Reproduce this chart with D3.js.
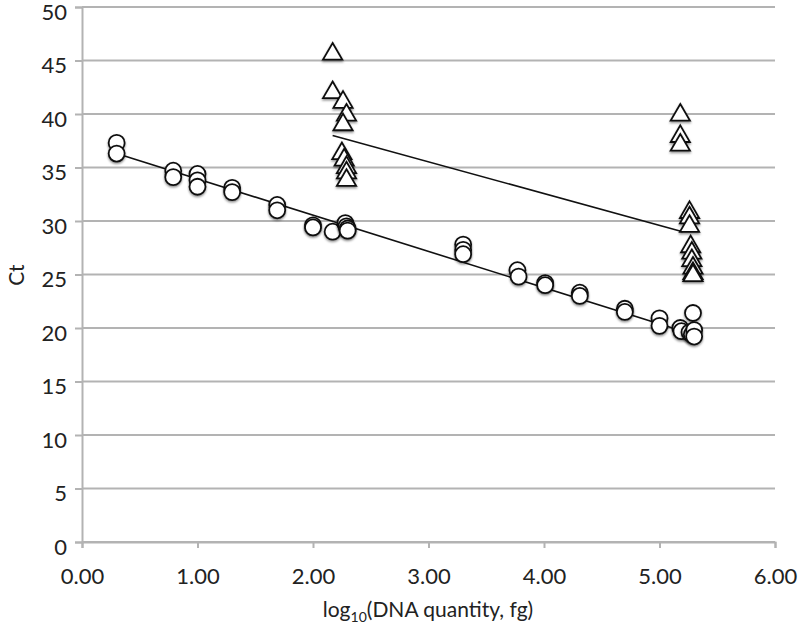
<!DOCTYPE html>
<html><head><meta charset="utf-8">
<script src="https://cdn.jsdelivr.net/npm/d3@7"></script>
<style>body{margin:0;background:#fff;} svg{display:block;}</style>
</head><body>
<script>
// Circle series: [log10 quantity, Ct]
const circleX = [0.30,0.30,0.79,0.79,1.00,1.00,1.00,1.30,1.30,1.69,1.69,2.00,2.00,2.17,2.28,2.29,2.30,2.30,3.30,3.30,3.30,3.77,3.78,4.01,4.01,4.31,4.31,4.70,4.70,5.00,5.00,5.18,5.19,5.26,5.28,5.29,5.30,5.30];
const circleY = [37.3,36.3,34.7,34.1,34.4,33.8,33.2,33.1,32.7,31.5,31.0,29.6,29.4,29.0,29.8,29.5,29.3,29.1,27.8,27.3,26.9,25.4,24.8,24.2,24.0,23.3,23.0,21.8,21.5,20.9,20.2,20.0,19.7,19.6,19.4,21.4,19.8,19.2];
// Triangle series
const triX = [2.17,2.17,2.26,2.29,2.26,2.25,2.27,2.29,2.29,2.29,5.18,5.18,5.18,5.26,5.26,5.26,5.27,5.28,5.28,5.29,5.29,5.29];
const triY = [45.6,42.0,41.1,39.9,39.0,36.3,35.7,35.0,34.5,33.8,39.9,37.9,37.1,30.8,30.3,29.5,27.6,27.0,26.3,25.6,25.1,24.9];
// Trend line endpoints
const circleTrendX = [0.30, 5.32];
const circleTrendY = [36.3, 19.3];
const triTrendX = [2.17, 5.20];
const triTrendY = [38.0, 29.0];
// Ticks
const xTicks = [0,1,2,3,4,5,6];
const yTicks = [0,5,10,15,20,25,30,35,40,45,50];
const xLabel = "log";
const yLabel = "Ct";

const W = 800, H = 634;
const svg = d3.select("body").append("svg").attr("width", W).attr("height", H);
const x = d3.scaleLinear().domain([0,6]).range([82,775]);
const y = d3.scaleLinear().domain([0,50]).range([542,7]);
const font = "Lato, 'Open Sans', sans-serif";
const gridC = "#b3b3b3";

// gridlines
svg.append("g").selectAll("line").data(yTicks).join("line")
  .attr("x1", x(0)).attr("x2", x(6)).attr("y1", d=>y(d)).attr("y2", d=>y(d))
  .attr("stroke", gridC).attr("stroke-width", 2);

// y axis
const yAxis = d3.axisLeft(y).tickValues(yTicks).tickSize(7).tickPadding(8).tickFormat(d3.format("d"));
const gy = svg.append("g").attr("transform", `translate(${x(0)},0)`).call(yAxis);
gy.select(".domain").attr("stroke", gridC).attr("stroke-width", 2);
gy.selectAll(".tick line").attr("stroke", gridC).attr("stroke-width", 2);
gy.selectAll("text").attr("font-family", font).attr("font-size", 22).attr("fill", "#222").attr("dy", "0.55em");

// x axis
const xAxis = d3.axisBottom(x).tickValues(xTicks).tickSize(6).tickPadding(20).tickFormat(d3.format(".2f"));
const gx = svg.append("g").attr("transform", `translate(0,${y(0)})`).call(xAxis);
gx.select(".domain").attr("stroke", gridC).attr("stroke-width", 2);
gx.selectAll(".tick line").attr("stroke", gridC).attr("stroke-width", 2);
gx.selectAll("text").attr("font-family", font).attr("font-size", 22).attr("fill", "#222");

// trend lines
const line = d3.line().x(d=>x(d[0])).y(d=>y(d[1]));
svg.append("path").datum(d3.zip(circleTrendX, circleTrendY)).attr("d", line)
  .attr("stroke", "#111").attr("stroke-width", 1.6).attr("fill", "none");
svg.append("path").datum(d3.zip(triTrendX, triTrendY)).attr("d", line)
  .attr("stroke", "#111").attr("stroke-width", 1.6).attr("fill", "none");

// shadow filter
const defs = svg.append("defs");
const f = defs.append("filter").attr("id","sh").attr("x","-50%").attr("y","-50%").attr("width","200%").attr("height","200%");
f.append("feDropShadow").attr("dx",0).attr("dy",1.5).attr("stdDeviation",1.2).attr("flood-color","#000").attr("flood-opacity",0.45);

// circles
svg.append("g").selectAll("circle").data(d3.zip(circleX, circleY)).join("circle")
  .attr("cx", d=>x(d[0])).attr("cy", d=>y(d[1])).attr("r", 8)
  .attr("fill", "#fff").attr("stroke", "#111").attr("stroke-width", 1.8).attr("filter","url(#sh)");

// triangles
const tri = d3.symbol().type(d3.symbolTriangle).size(160);
svg.append("g").selectAll("path").data(d3.zip(triX, triY)).join("path")
  .attr("d", tri)
  .attr("transform", d=>`translate(${x(d[0])},${y(d[1])})`)
  .attr("fill", "#fff").attr("stroke", "#111").attr("stroke-width", 1.8).attr("stroke-linejoin","miter").attr("filter","url(#sh)");

// axis titles
const xt = svg.append("text").attr("x", 428).attr("y", 617).attr("text-anchor","middle")
  .attr("font-family", font).attr("font-size", 21).attr("fill","#222");
xt.append("tspan").text(xLabel);
xt.append("tspan").attr("font-size", 14).attr("dy", 5).text("10");
xt.append("tspan").attr("dy", -5).text("(DNA quantity, fg)");

svg.append("text").attr("transform", "translate(24,275) rotate(-90)").attr("text-anchor","middle")
  .attr("font-family", font).attr("font-size", 21).attr("fill","#222").text(yLabel);
</script>
</body></html>
